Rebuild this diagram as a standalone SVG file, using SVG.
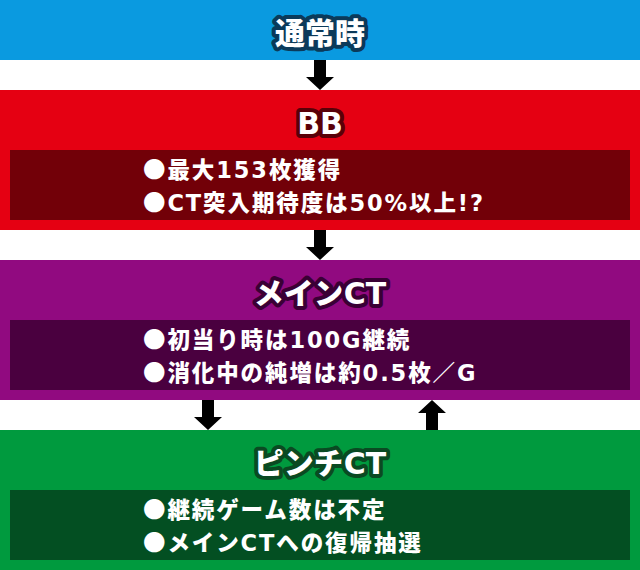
<svg xmlns="http://www.w3.org/2000/svg" width="640" height="570" viewBox="0 0 640 570">
<style>
.title{font-family:"Noto Sans CJK JP","Noto Sans",sans-serif;font-weight:900;font-size:30px;fill:#fff;text-anchor:middle;stroke-width:8px;stroke-linejoin:round;paint-order:stroke fill}
.lat{font-family:"DejaVu Sans","Noto Sans CJK JP",sans-serif;font-weight:bold}
.body{font-family:"DejaVu Sans","Noto Sans CJK JP",sans-serif;font-weight:bold;font-size:22.5px;letter-spacing:1.9px;fill:#fff}
.cjk{font-family:"Noto Sans CJK JP",sans-serif;font-weight:900}
.arrow{fill:#000}
</style>
<defs>
<path id="down" d="M-6,0 H6 V17 H14 L0,30 L-14,17 H-6 Z"/>
<path id="up" d="M-6,30 H6 V13 H14 L0,0 L-14,13 H-6 Z"/>
</defs>
<rect width="640" height="570" fill="#fff"/>
<g id="normal">
<rect x="0" y="0" width="640" height="60" fill="#0a9ae0"/>
<text class="title" x="320" y="44" stroke="#0b3a5a">通常時</text>
</g>
<g id="bb">
<rect x="0" y="90" width="640" height="140" fill="#e50012"/>
<rect x="10" y="150" width="620" height="70" fill="#720008"/>
<text class="title" x="320" y="134" stroke="#5a0008"><tspan class="lat">BB</tspan></text>
<text class="body"><tspan x="143" y="178"><tspan class="cjk">●最大</tspan>153<tspan class="cjk">枚獲得</tspan></tspan><tspan x="143" y="211"><tspan class="cjk">●</tspan>CT<tspan class="cjk">突入期待度は</tspan>50%<tspan class="cjk">以上</tspan>!?</tspan></text>
</g>
<g id="main-ct">
<rect x="0" y="260" width="640" height="140" fill="#910a80"/>
<rect x="10" y="320" width="620" height="70" fill="#4a003f"/>
<text class="title" x="320" y="304" stroke="#3a0035">メイン<tspan class="lat">CT</tspan></text>
<text class="body"><tspan x="143" y="348"><tspan class="cjk">●初当り時は</tspan>100G<tspan class="cjk">継続</tspan></tspan><tspan x="143" y="381"><tspan class="cjk">●消化中の純増は約</tspan>0.5<tspan class="cjk">枚／</tspan>G</tspan></text>
</g>
<g id="pinch-ct">
<rect x="0" y="430" width="640" height="140" fill="#009a3e"/>
<rect x="10" y="490" width="620" height="70" fill="#034f22"/>
<text class="title" x="320" y="474" stroke="#0a4a22">ピンチ<tspan class="lat">CT</tspan></text>
<text class="body"><tspan x="143" y="518"><tspan class="cjk">●継続ゲーム数は不定</tspan></tspan><tspan x="143" y="551"><tspan class="cjk">●メイン</tspan>CT<tspan class="cjk">への復帰抽選</tspan></tspan></text>
</g>
<g id="connectors">
<use href="#down" class="arrow" x="320" y="60"/>
<use href="#down" class="arrow" x="320" y="230"/>
<use href="#down" class="arrow" x="208" y="400"/>
<use href="#up" class="arrow" x="432" y="400"/>
</g>
</svg>
